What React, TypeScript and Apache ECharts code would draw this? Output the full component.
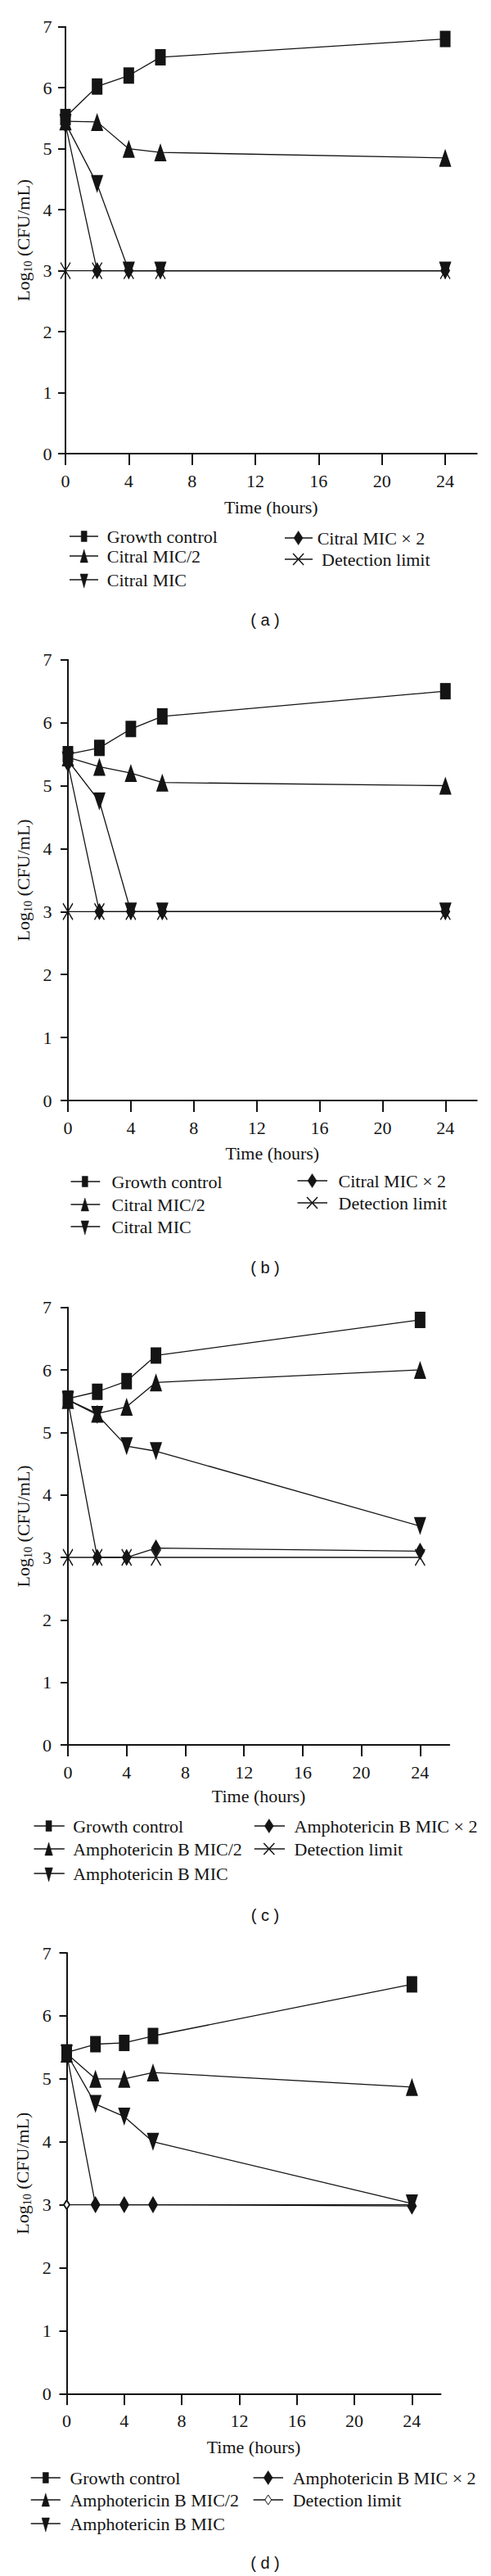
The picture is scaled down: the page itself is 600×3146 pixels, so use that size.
import React, { useEffect, useRef } from 'react';
import * as echarts from 'echarts';

// ---------- data ----------
const hours = [0, 2, 4, 6, 24];
const xTickValues = [0, 4, 8, 12, 16, 20, 24];

// (a) Citral
const aGrowth = [5.52, 6.02, 6.2, 6.5, 6.8];
const aHalf = [5.45, 5.44, 5.0, 4.94, 4.85];
const aMic = [5.42, 4.42, 3.0, 3.0, 3.0];
const aDouble = [5.4, 3.0, 3.0, 3.0, 3.0];
const aLimit = [3, 3, 3, 3, 3];

// (b) Citral
const bGrowth = [5.5, 5.6, 5.9, 6.1, 6.5];
const bHalf = [5.45, 5.3, 5.2, 5.05, 5.0];
const bMic = [5.4, 4.75, 3.0, 3.0, 3.0];
const bDouble = [5.35, 3.0, 3.0, 3.0, 3.0];
const bLimit = [3, 3, 3, 3, 3];

// (c) Amphotericin B
const cGrowth = [5.54, 5.65, 5.82, 6.23, 6.8];
const cHalf = [5.52, 5.3, 5.41, 5.8, 6.0];
const cMic = [5.52, 5.28, 4.78, 4.7, 3.5];
const cDouble = [5.5, 3.0, 3.0, 3.15, 3.1];
const cLimit = [3, 3, 3, 3, 3];

// (d) Amphotericin B
const dGrowth = [5.42, 5.55, 5.57, 5.68, 6.5];
const dHalf = [5.4, 5.0, 5.0, 5.1, 4.87];
const dMic = [5.4, 4.6, 4.4, 4.0, 3.02];
const dDouble = [5.4, 3.0, 3.0, 3.0, 2.98];
const dLimit = [3, 3, 3, 3, 3];

const citralNames = ['Growth control', 'Citral MIC/2', 'Citral MIC', 'Citral MIC × 2', 'Detection limit'];
const amphoNames = [
  'Growth control',
  'Amphotericin B MIC/2',
  'Amphotericin B MIC',
  'Amphotericin B MIC × 2',
  'Detection limit',
];
const panelTags = ['( a )', '( b )', '( c )', '( d )'];

// ---------- styling / layout ----------
const FONT = 'Liberation Serif';
const INK = '#141414';
const FS = 22;

type Kind = 'square' | 'up' | 'down' | 'diamond' | 'x' | 'open';

type PanelLayout = {
  grid: { left: number; top: number; width: number; height: number };
  yLabelMargin: number;
  yNameGap: number;
  xNameGap: number;
  tagY: number;
  limitKind: Kind;
  col1: { line: [number, number]; marker: number; text: number; rows: number[] };
  col2: { line: [number, number]; marker: number; text: number[]; rows: number[] };
};

const layouts: PanelLayout[] = [
  {
    grid: { left: 80, top: 32.7, width: 502.7, height: 521.3 },
    yLabelMargin: 16.5,
    yNameGap: 34,
    xNameGap: 54,
    tagY: 757,
    limitKind: 'x',
    col1: { line: [85, 120], marker: 102.7, text: 130.8, rows: [655, 679, 708] },
    col2: { line: [348, 382], marker: 364.6, text: [387.7, 393], rows: [657, 683] },
  },
  {
    grid: { left: 83, top: 805.7, width: 499.7, height: 538.3 },
    yLabelMargin: 19.5,
    yNameGap: 36,
    xNameGap: 53,
    tagY: 1548,
    limitKind: 'x',
    col1: { line: [86.5, 122.3], marker: 103.8, text: 136.5, rows: [1443, 1471, 1498] },
    col2: { line: [363.5, 400], marker: 381.5, text: [413.5, 413.5], rows: [1442, 1469] },
  },
  {
    grid: { left: 83, top: 1596.7, width: 466.2, height: 534.3 },
    yLabelMargin: 20,
    yNameGap: 36,
    xNameGap: 51,
    tagY: 2339,
    limitKind: 'x',
    col1: { line: [41.5, 78.8], marker: 59.6, text: 89.2, rows: [2230, 2258, 2288] },
    col2: { line: [310.8, 348], marker: 328.8, text: [359.6, 359.6], rows: [2230, 2258] },
  },
  {
    grid: { left: 81.5, top: 2385, width: 457, height: 538.3 },
    yLabelMargin: 18.8,
    yNameGap: 35,
    xNameGap: 54,
    tagY: 3130,
    limitKind: 'open',
    col1: { line: [37.7, 73.8], marker: 55.8, text: 85.4, rows: [3026, 3053, 3082] },
    col2: { line: [309.6, 346], marker: 327.7, text: [357.7, 357.7], rows: [3026, 3053] },
  },
];

const panelSeries = [
  [aGrowth, aHalf, aMic, aDouble, aLimit],
  [bGrowth, bHalf, bMic, bDouble, bLimit],
  [cGrowth, cHalf, cMic, cDouble, cLimit],
  [dGrowth, dHalf, dMic, dDouble, dLimit],
];
const panelNames = [citralNames, citralNames, amphoNames, amphoNames];

const X_PATH = 'path://M0,0L10,10M10,0L0,10';

function symbolFor(kind: Kind) {
  switch (kind) {
    case 'square':
      return { symbol: 'rect', symbolSize: [13, 20], symbolRotate: 0 };
    case 'up':
      return { symbol: 'triangle', symbolSize: [15, 22], symbolRotate: 0 };
    case 'down':
      return { symbol: 'triangle', symbolSize: [15, 22], symbolRotate: 180 };
    case 'diamond':
      return { symbol: 'diamond', symbolSize: [12, 21], symbolRotate: 0 };
    case 'x':
      return { symbol: X_PATH, symbolSize: [12, 20], symbolRotate: 0 };
    default:
      return { symbol: 'emptyDiamond', symbolSize: [7, 11], symbolRotate: 0 };
  }
}

function legendMarker(kind: Kind, cx: number, cy: number): any[] {
  const fill = { fill: INK, stroke: INK, lineWidth: 0.5 };
  switch (kind) {
    case 'square':
      return [{ type: 'rect', shape: { x: cx - 3.5, y: cy - 6.5, width: 7, height: 13 }, style: fill }];
    case 'up':
      return [{ type: 'polygon', shape: { points: [[cx, cy - 8], [cx + 4.7, cy + 8], [cx - 4.7, cy + 8]] }, style: fill }];
    case 'down':
      return [{ type: 'polygon', shape: { points: [[cx - 4.7, cy - 7], [cx + 4.7, cy - 7], [cx, cy + 10]] }, style: fill }];
    case 'diamond':
      return [{ type: 'polygon', shape: { points: [[cx, cy - 8.5], [cx + 5.5, cy], [cx, cy + 8.5], [cx - 5.5, cy]] }, style: fill }];
    case 'x':
      return [
        { type: 'line', shape: { x1: cx - 6.5, y1: cy - 7, x2: cx + 6.5, y2: cy + 7 }, style: { stroke: INK, lineWidth: 1.5 } },
        { type: 'line', shape: { x1: cx + 6.5, y1: cy - 7, x2: cx - 6.5, y2: cy + 7 }, style: { stroke: INK, lineWidth: 1.5 } },
      ];
    default:
      return [{ type: 'polygon', shape: { points: [[cx, cy - 6], [cx + 4, cy], [cx, cy + 6], [cx - 4, cy]] }, style: { fill: '#fff', stroke: INK, lineWidth: 1 } }];
  }
}

function textEl(text: string, x: number, y: number, font: string, align: string) {
  return {
    type: 'text',
    x,
    y,
    silent: true,
    style: {
      text,
      fill: INK,
      font,
      align,
      verticalAlign: 'middle',
      textAlign: align,
      textVerticalAlign: 'middle',
    },
  };
}

function buildOption() {
  const grid: any[] = [];
  const xAxis: any[] = [];
  const yAxis: any[] = [];
  const series: any[] = [];
  const graphic: any[] = [];

  layouts.forEach((L, i) => {
    grid.push({ ...L.grid, containLabel: false });
    xAxis.push({
      gridIndex: i,
      type: 'value',
      min: 0,
      max: 26,
      interval: 4,
      axisLine: { show: true, onZero: false, lineStyle: { color: INK, width: 2 } },
      axisTick: { show: true, length: 14, customValues: xTickValues, lineStyle: { color: INK, width: 2 } },
      axisLabel: { margin: 22, customValues: xTickValues, fontFamily: FONT, fontSize: FS, color: INK },
      splitLine: { show: false },
      name: 'Time (hours)',
      nameLocation: 'middle',
      nameGap: L.xNameGap,
      nameTextStyle: { fontFamily: FONT, fontSize: FS, color: INK },
    });
    yAxis.push({
      gridIndex: i,
      type: 'value',
      min: 0,
      max: 7,
      interval: 1,
      axisLine: { show: true, lineStyle: { color: INK, width: 2 } },
      axisTick: { show: true, length: 9, lineStyle: { color: INK, width: 2 } },
      axisLabel: { margin: L.yLabelMargin, fontFamily: FONT, fontSize: FS, color: INK },
      splitLine: { show: false },
      name: '{n|Log}{s|10}{n| (CFU/mL)}',
      nameLocation: 'middle',
      nameGap: L.yNameGap,
      nameTextStyle: {
        fontFamily: FONT,
        fontSize: FS,
        color: INK,
        rich: {
          n: { fontFamily: FONT, fontSize: FS, lineHeight: 26, color: INK },
          s: { fontFamily: FONT, fontSize: 14, lineHeight: 14, verticalAlign: 'bottom', color: INK },
        },
      },
    });

    const kinds: Kind[] = ['square', 'up', 'down', 'diamond', L.limitKind];
    const vals = panelSeries[i];
    const names = panelNames[i];
    // draw order: limit first, growth last (on top)
    [4, 3, 2, 1, 0].forEach((k) => {
      const sym = symbolFor(kinds[k]);
      const isX = kinds[k] === 'x';
      series.push({
        type: 'line',
        name: names[k],
        xAxisIndex: i,
        yAxisIndex: i,
        data: hours.map((h, j) => [h, vals[k][j]]),
        symbol: sym.symbol,
        symbolSize: sym.symbolSize,
        symbolRotate: sym.symbolRotate,
        showAllSymbol: true,
        lineStyle: { color: INK, width: 1.3 },
        itemStyle: isX
          ? { color: INK, borderColor: INK, borderWidth: 1.5 }
          : kinds[k] === 'open'
          ? { color: INK, borderColor: INK, borderWidth: 1 }
          : { color: INK },
        emphasis: { disabled: true },
        silent: true,
        z: 2 + (4 - k),
      });
    });

    // legend (drawn as graphics)
    const legendFont = `${FS}px "${FONT}"`;
    L.col1.rows.forEach((y, r) => {
      graphic.push({ type: 'line', silent: true, shape: { x1: L.col1.line[0], y1: y, x2: L.col1.line[1], y2: y }, style: { stroke: INK, lineWidth: 1.3 } });
      legendMarker(kinds[r], L.col1.marker, y).forEach((g) => graphic.push({ ...g, silent: true }));
      graphic.push(textEl(names[r], L.col1.text, y, legendFont, 'left'));
    });
    L.col2.rows.forEach((y, r) => {
      const k = r + 3;
      graphic.push({ type: 'line', silent: true, shape: { x1: L.col2.line[0], y1: y, x2: L.col2.line[1], y2: y }, style: { stroke: INK, lineWidth: 1.3 } });
      legendMarker(kinds[k], L.col2.marker, y).forEach((g) => graphic.push({ ...g, silent: true }));
      graphic.push(textEl(names[k], L.col2.text[r], y, legendFont, 'left'));
    });
    graphic.push(textEl(panelTags[i], 324, L.tagY, '20px "Liberation Sans"', 'center'));
  });

  return {
    animation: false,
    backgroundColor: '#ffffff',
    grid,
    xAxis,
    yAxis,
    series,
    graphic: { elements: graphic },
  };
}

export default function App() {
  const ref = useRef<HTMLDivElement>(null);
  useEffect(() => {
    if (!ref.current) return;
    const chart = echarts.init(ref.current, null, { renderer: 'svg' });
    chart.setOption(buildOption() as any);
    return () => chart.dispose();
  }, []);
  return (
    <div
      ref={ref}
      style={{ position: 'absolute', left: 0, top: 0, width: 600, height: 3146, background: '#fff' }}
    />
  );
}
